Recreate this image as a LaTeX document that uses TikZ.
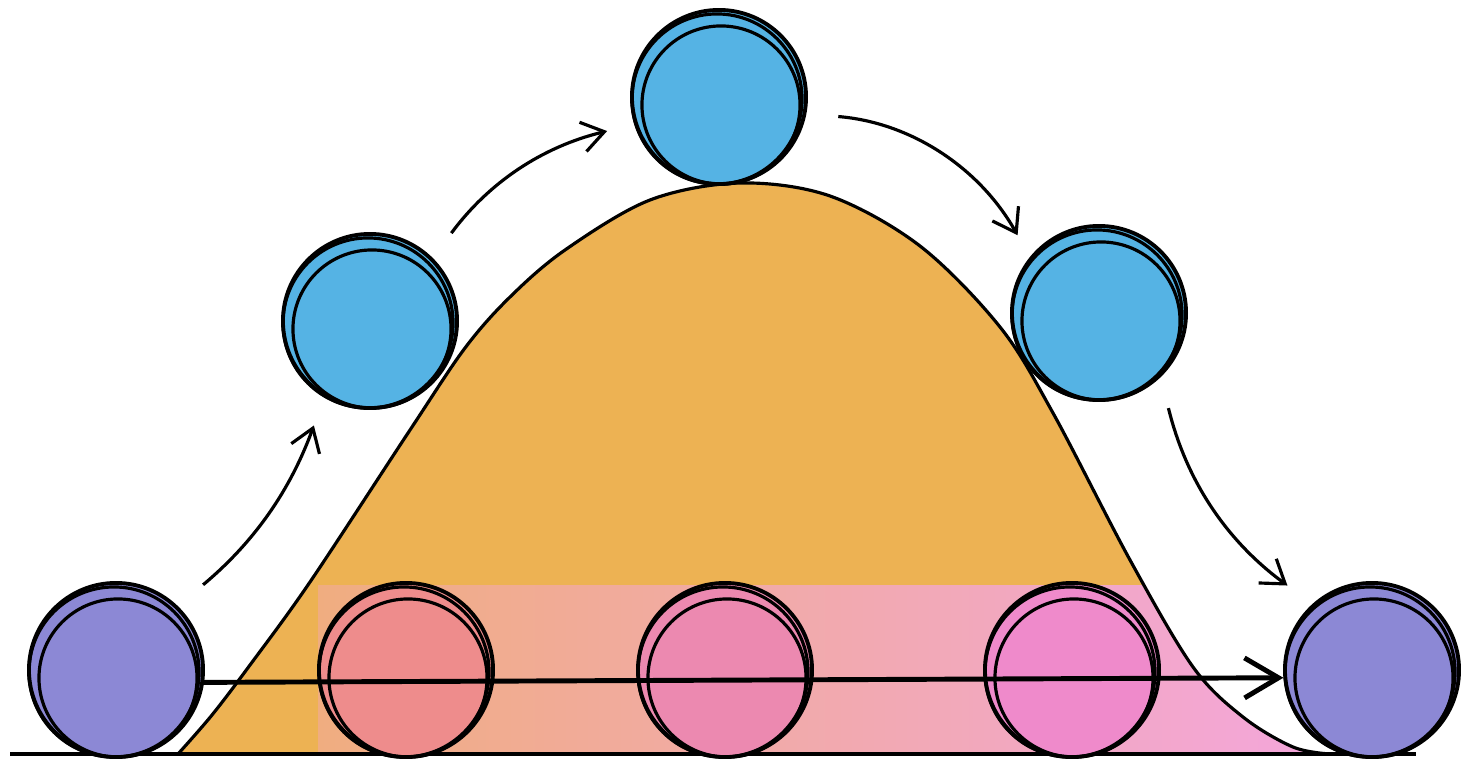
\documentclass[tikz,border=0pt]{standalone}
\usepackage{xcolor}
\usepackage{tikz}
\usetikzlibrary{arrows.meta, positioning, calc, shadings}
\definecolor{bellorange}{RGB}{237,178,83}
\definecolor{bandleft}{RGB}{240,173,128}
\definecolor{bandright}{RGB}{243,166,220}
\definecolor{ballpurple}{RGB}{140,136,213}
\definecolor{ballblue}{RGB}{85,179,228}
\definecolor{ballsalmon}{RGB}{238,140,140}
\definecolor{ballpink}{RGB}{236,137,176}
\definecolor{ballmagenta}{RGB}{239,138,203}

\begin{document}
\begin{tikzpicture}[x=0.01cm, y=-0.01cm,
  ball/.style={circle, draw=black, line width=1.1pt, minimum size=1.74cm, inner sep=0pt},
  sketch/.style={draw=black, line width=0.9pt},
  flow/.style={draw=black, line width=0.9pt, -{Straight Barb[length=2.2mm, width=3mm]}},
  track/.style={draw=black, line width=1.4pt, -{Straight Barb[length=3.4mm, width=4mm]}}]
  \useasboundingbox (0,0) rectangle (1461,761);
  % Bell curve
  \def\bell{(178,754) (212,715) (250,665) (310,582) (410,430) (465,348) (510,297) (565,250) (650,200) (740,183)
    (830,196) (920,246) (1000,327) (1053,413) (1130,560) (1193,667) (1243,717) (1293,747) (1330,754)}
  \fill[bellorange] plot[smooth, tension=0.55] coordinates {\bell} -- cycle;
  \begin{scope}
    \clip plot[smooth, tension=0.55] coordinates {\bell} -- cycle;
    \shade[left color=bandleft, right color=bandright] (318,585) rectangle (1330,754);
  \end{scope}
  \draw[line width=0.9pt] plot[smooth, tension=0.55] coordinates {\bell};
  \draw[line width=0.9pt] (10,754) -- (1416,754);
  % Bottom row
  \node[ball, fill=ballpurple] (p1) at (116,670) {};
  \node[ball, fill=ballsalmon] (r1) at (406,670) {};
  \node[ball, fill=ballpink] (r2) at (725,670) {};
  \node[ball, fill=ballmagenta] (r3) at (1072,670) {};
  \node[ball, fill=ballpurple] (p2) at (1372,670) {};
  % Over the hill
  \node[ball, fill=ballblue] (b1) at (370,321) {};
  \node[ball, fill=ballblue] (top) at (719,97) {};
  \node[ball, fill=ballblue] (b2) at (1099,313) {};
  \foreach \n in {p1,r1,r2,r3,p2,b1,top,b2}{
    \draw[sketch] ([shift={(2,8)}]\n.center) circle[radius=0.79cm];
    \draw[sketch] ([shift={(-2,2)}]\n.center) circle[radius=0.85cm];
  }
  % Arrows
  \draw[flow, shorten <=0.33cm, shorten >=0.3cm] (p1.46) to[bend right=15] (b1.239);
  \draw[flow, shorten <=0.31cm, shorten >=0.28cm] (b1.45) to[bend left=20] (top.198);
  \draw[flow, shorten <=0.32cm, shorten >=0.25cm] (top.-11) to[bend left=28] (b2.141);
  \draw[flow, shorten <=0.32cm, shorten >=0.31cm] (b2.-46) to[bend right=20] (p2.132);
  \draw[track] (p1.-8) -- (p2.185);
\end{tikzpicture}
\end{document}
